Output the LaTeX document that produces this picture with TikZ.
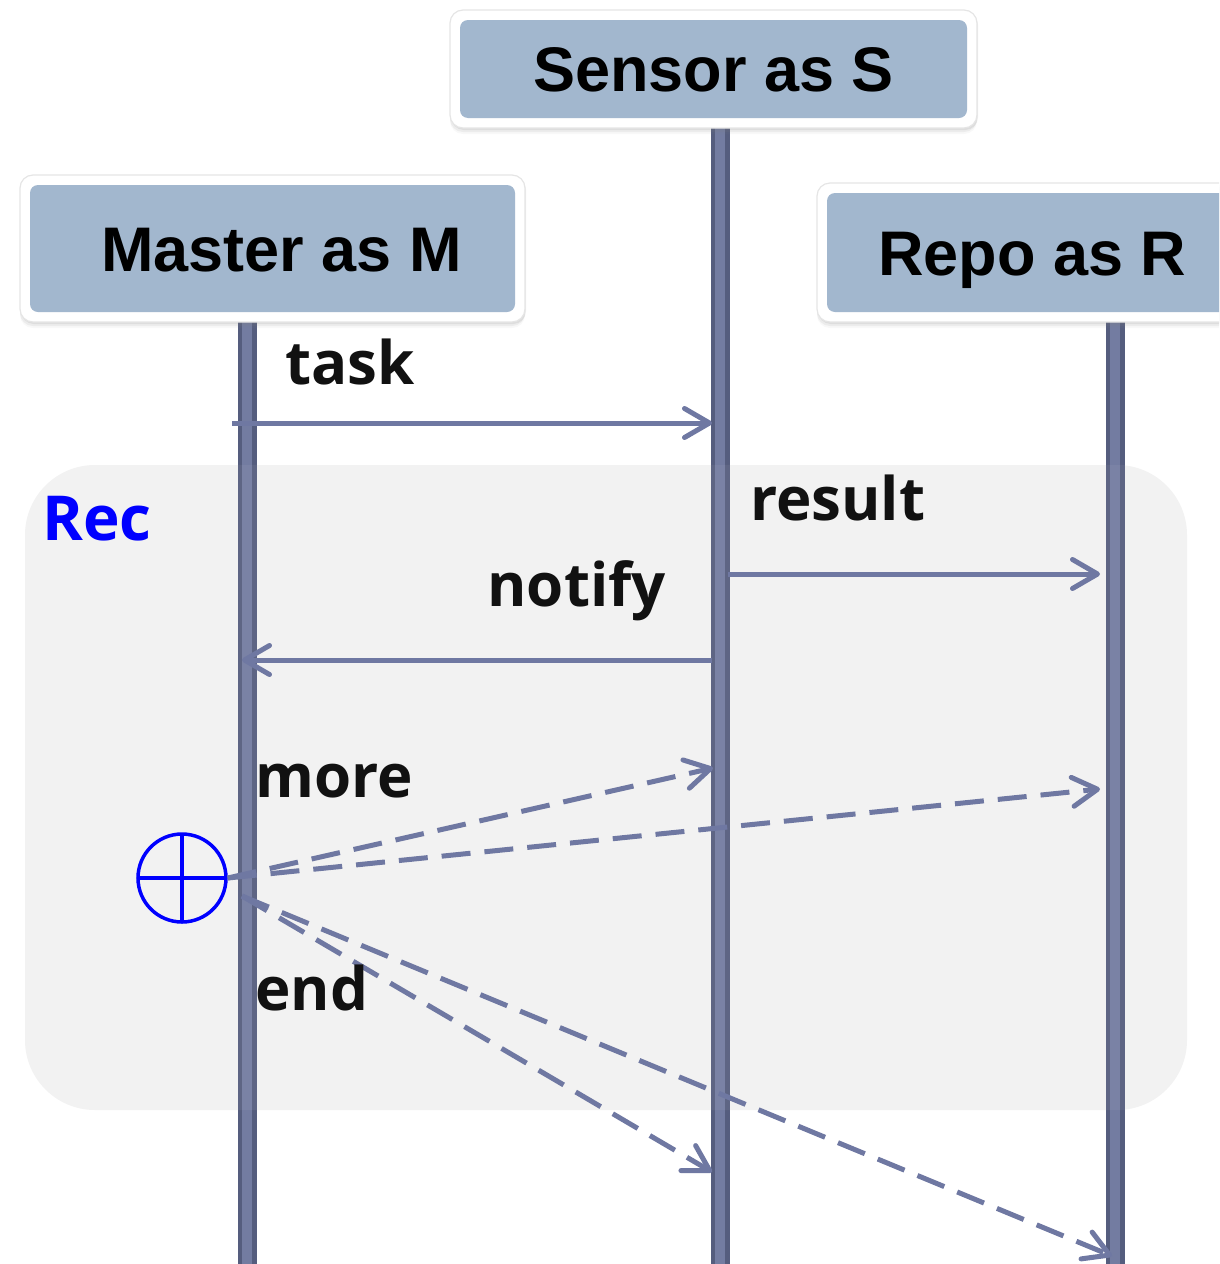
\documentclass[tikz,border=0pt]{standalone}
\usepackage{fontspec}
\usetikzlibrary{arrows.meta,shadows}
\newfontfamily\headfont{Liberation Sans}
\newfontfamily\labfont{Open Sans}
\definecolor{hdrblue}{HTML}{A2B7CE}
\definecolor{lifedark}{HTML}{555D7E}
\definecolor{lifemid}{HTML}{737CA1}
\definecolor{msgline}{HTML}{6F78A2}
\definecolor{grpfill}{HTML}{F2F2F2}
\definecolor{labink}{HTML}{111111}

\begin{document}
\begin{tikzpicture}[x=1pt,y=-1pt,
  hdr/.style={fill=white, draw=black!10, line width=1.2pt,
    rounded corners=13pt, inner sep=0pt,
    font=\headfont\bfseries\fontsize{63}{70}\selectfont,
    text height=45pt, text depth=0pt,
    drop shadow={shadow xshift=0pt,shadow yshift=-6pt,opacity=.06},
    drop shadow={shadow xshift=0pt,shadow yshift=-4pt,opacity=.10},
    drop shadow={shadow xshift=1pt,shadow yshift=-2pt,opacity=.14},
    path picture={\fill[hdrblue, rounded corners=8pt]
      ([shift={(10pt,-10pt)}]path picture bounding box.north west) rectangle
      ([shift={(-10pt,10pt)}]path picture bounding box.south east);}},
  lifeline/.style={draw=lifedark, line width=19pt,
    postaction={draw=lifemid, line width=10pt}},
  msg/.style={draw=msgline, line width=5pt,
    -{Straight Barb[length=25pt,width=29pt,round]}},
  asyncmsg/.style={msg, dash pattern=on 29pt off 14pt},
  lbl/.style={font=\labfont\bfseries\fontsize{60}{66}\selectfont,
    text=labink, inner sep=0pt},
  grp/.style={fill=grpfill, rounded corners=70pt}
]
\clip (0,0) rectangle (1219,1264);

% loop group background
\node[grp, minimum width=1162pt, minimum height=645pt, inner sep=0pt]
  (rec) at (606,787.5) {};

% lifelines
\coordinate (mTop) at (247,322);
\coordinate (mBot) at (247,1270);
\coordinate (sTop) at (720,128);
\coordinate (sBot) at (720,1270);
\coordinate (rTop) at (1115,322);
\coordinate (rBot) at (1115,1270);
\draw[lifeline] (mTop) -- (mBot);
\draw[lifeline] (sTop) -- (sBot);
\draw[lifeline] (rTop) -- (rBot);

% participants
\node[hdr, minimum width=505pt, minimum height=147pt] (master) at (272.5,248.5) {\kern18pt Master as M};
\node[hdr, minimum width=527pt, minimum height=118pt] (sensor) at (713.5,69) {Sensor as S};
\node[hdr, minimum width=431pt, minimum height=139pt] (repo) at (1032.5,252.5) {Repo as R};

% light veil of the group over the lifelines
\fill[grpfill, opacity=.06, rounded corners=70pt] (rec.north west) rectangle (rec.south east);
\node[font=\labfont\bfseries\fontsize{62}{66}\selectfont, text=blue,
  inner sep=0pt, anchor=base west] (reclbl) at (42,540) {Rec};

% synchronous messages
\coordinate (taskA) at (232,423);
\coordinate (taskB) at (712,423);
\draw[msg] (taskA) -- (taskB);
\node[lbl, anchor=base west] (tasklbl) at (285,384) {task};

\coordinate (resA) at (728,574);
\coordinate (resB) at (1100,574);
\draw[msg] (resA) -- (resB);
\node[lbl, anchor=base west] (reslbl) at (750,520) {result};

\coordinate (notA) at (712,660);
\coordinate (notB) at (242,660);
\draw[msg] (notA) -- (notB);
\node[lbl, anchor=base east] (notlbl) at (666,606) {notify};

% recursion marker
\node[circle, draw=blue, line width=3.5pt, minimum size=88pt, inner sep=0pt,
  path picture={\draw[blue, line width=3.5pt]
    (path picture bounding box.west) -- (path picture bounding box.east)
    (path picture bounding box.north) -- (path picture bounding box.south);}]
  (recv) at (182,878) {};

% asynchronous messages
\coordinate (moreS) at (713,768);
\coordinate (moreR) at (1100,789);
\draw[asyncmsg] (recv.east) -- (moreS);
\draw[asyncmsg] (recv.east) -- (moreR);
\node[lbl, anchor=base west] (morelbl) at (255,797) {more};

\coordinate (endA) at (242,896);
\coordinate (endS) at (712,1172);
\coordinate (endR) at (1112,1256);
\draw[asyncmsg] (endA) -- (endS);
\draw[asyncmsg] (endA) -- (endR);
\node[lbl, anchor=base west] (endlbl) at (255,1010) {end};
\end{tikzpicture}
\end{document}
